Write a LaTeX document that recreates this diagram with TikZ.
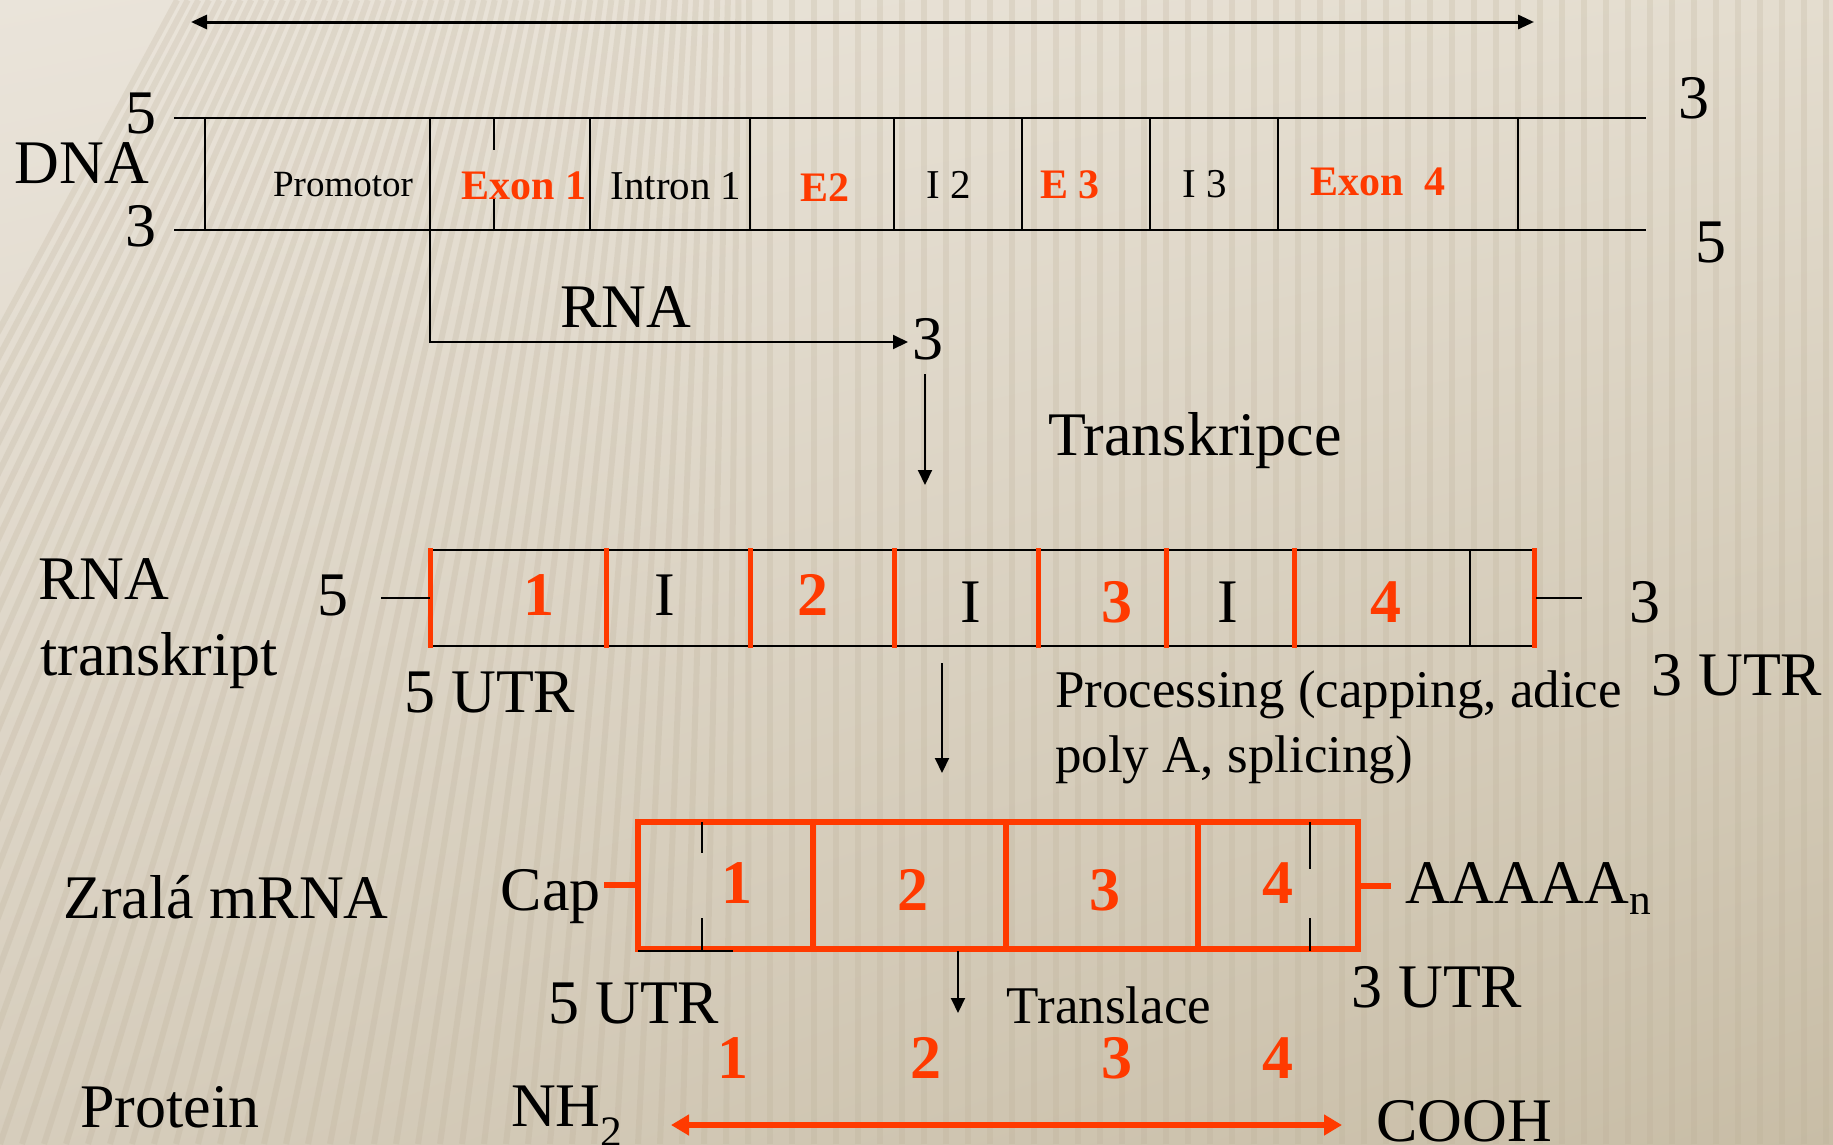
\documentclass[tikz,border=0pt]{standalone}
\usepackage{fontspec}
\setmainfont{Liberation Serif}
\usetikzlibrary{arrows.meta,shadings}
\definecolor{gred}{RGB}{255,58,0}
\definecolor{bgUL}{RGB}{234,228,218}
\definecolor{bgUR}{RGB}{228,221,207}
\definecolor{bgLL}{RGB}{214,205,188}
\definecolor{bgLR}{RGB}{200,189,166}
\definecolor{stripecol}{RGB}{185,172,148}
\tikzset{
  txtL/.style={font=\fontsize{62}{74}\selectfont, inner sep=0pt},
  txtM/.style={font=\fontsize{53}{65}\selectfont, inner sep=0pt},
  txtS/.style={font=\fontsize{41}{49}\selectfont, inner sep=0pt},
  txtP/.style={font=\fontsize{37}{44}\selectfont, inner sep=0pt},
  exonlbl/.style={font=\fontsize{42}{50}\selectfont\bfseries, text=gred, inner sep=0pt},
  rnum/.style={font=\fontsize{62}{74}\selectfont\bfseries, text=gred, inner sep=0pt},
  strand/.style={line width=2.5pt},
  sepline/.style={line width=1.6pt},
  rbar/.style={draw=gred, line width=5pt},
  rbox/.style={draw=gred, line width=6pt},
  thinmark/.style={line width=2pt},
  arr/.style={line width=2pt, -{Triangle[length=15pt,width=14pt]}},
  dblarr/.style={line width=3pt, {Triangle[length=16pt,width=14pt]}-{Triangle[length=16pt,width=14pt]}},
  redarr/.style={draw=gred, line width=6pt, {Triangle[length=18pt,width=20pt]}-{Triangle[length=18pt,width=20pt]}},
  stripe/.style={draw=stripecol, line width=6pt, opacity=0.22},
}
\begin{document}
\begin{tikzpicture}[x=1pt,y=-1pt]
% background
\useasboundingbox (0,0) rectangle (1833,1144);
\shade[upper left=bgUL, upper right=bgUR, lower left=bgLL, lower right=bgLR] (0,0) rectangle (1833,1144);
\begin{scope}
\clip (0,0) rectangle (1833,1144);
\foreach \x in {-440,-418,...,1850}{
  \pgfmathsetmacro\s{max(0,0.34*(1-\x/750))}
  \draw[stripe] (\x,1144) -- ({\x+\s*1144},0);
}
\end{scope}

% ---------- top double arrow ----------
\coordinate (ta1) at (191,22);
\coordinate (ta2) at (1534,22);
\draw[dblarr] (ta1) -- (ta2);

% ---------- DNA ----------
\coordinate (dtl) at (174,118);
\coordinate (dtr) at (1646,118);
\coordinate (dbl) at (174,230);
\coordinate (dbr) at (1646,230);
\draw[strand] (dtl) -- (dtr);
\draw[strand] (dbl) -- (dbr);
\foreach \x in {205,430,590,750,894,1022,1150,1278,1518}{
  \draw[sepline] (\x,118) -- (\x,230);
}
\draw[sepline] (494,118) -- (494,150);
\draw[sepline] (494,198) -- (494,230);

\node[txtL, anchor=base] (d5) at (141,133) {5};
\node[txtL, anchor=base] (dna) at (82,183) {DNA};
\node[txtL, anchor=base] (d3) at (141,246) {3};
\node[txtL, anchor=base] (d3r) at (1694,118) {3};
\node[txtL, anchor=base] (d5r) at (1711,262) {5};

\node[txtP, anchor=base] (prom) at (343,196) {Promotor};
\node[exonlbl, anchor=base] (ex1) at (524,199) {Exon 1};
\node[txtS, anchor=base] (in1) at (676,199) {Intron 1};
\node[exonlbl, anchor=base] (e2) at (825,201) {E2};
\node[txtS, anchor=base] (i2) at (949,198) {I 2};
\node[exonlbl, anchor=base] (e3) at (1070,198) {E 3};
\node[txtS, anchor=base] (i3) at (1205,197) {I 3};
\node[exonlbl, anchor=base] (ex4) at (1378,195) {Exon\ \ 4};

% ---------- RNA synthesis ----------
\node[txtL, anchor=base] (rnalbl) at (626,327) {RNA};
\node[txtL, anchor=base] (r3) at (928,359) {3};
\coordinate (tss) at (430,230);
\coordinate (rnaend) at (908,342);
\draw[arr] (tss) |- (rnaend);

% transcription arrow
\coordinate (tk1) at (925,374);
\coordinate (tk2) at (925,485);
\draw[arr] (tk1) -- (tk2);
\node[txtL, anchor=base] (transk) at (1195,455) {Transkripce};

% ---------- RNA transcript ----------
\node[txtL, anchor=base west] (rnat1) at (38,599) {RNA};
\node[txtL, anchor=base west] (rnat2) at (40,675) {transkript};
\node[txtL, anchor=base] (t5) at (333,615) {5};
\node[txtL, anchor=base] (t3) at (1645,622) {3};

\coordinate (bl) at (430,550);
\coordinate (br) at (1534,550);
\coordinate (bbl) at (430,646);
\coordinate (bbr) at (1534,646);
\draw[strand] (bl) -- (br);
\draw[strand] (bbl) -- (bbr);
\draw[sepline] (1470,550) -- (1470,646);
\foreach \x in {430,606,750,894,1038,1166,1294,1534}{
  \draw[rbar] (\x,548) -- (\x,648);
}
\coordinate (st5) at (381,598);
\coordinate (st3) at (1582,598);
\draw[thinmark] (st5) -- (430,598);
\draw[thinmark] (1536,598) -- (st3);

\node[rnum, anchor=base] (tn1) at (539,615) {1};
\node[txtL, anchor=base] (ti1) at (665,615) {I};
\node[rnum, anchor=base] (tn2) at (813,615) {2};
\node[txtL, anchor=base] (ti2) at (971,622) {I};
\node[rnum, anchor=base] (tn3) at (1117,622) {3};
\node[txtL, anchor=base] (ti3) at (1228,622) {I};
\node[rnum, anchor=base] (tn4) at (1386,622) {4};

\node[txtL, anchor=base] (utr5a) at (490,712) {5 UTR};
\node[txtL, anchor=base] (utr3a) at (1737,695) {3 UTR};

% processing arrow
\coordinate (pr1) at (942,663);
\coordinate (pr2) at (942,773);
\draw[arr] (pr1) -- (pr2);
\node[txtM, anchor=base west] (proc) at (1055,707) {\begin{tabular}[t]{@{}l@{}}Processing (capping, adice\\poly A, splicing)\end{tabular}};

% ---------- mature mRNA ----------
\node[txtL, anchor=base] (zr) at (226,918) {Zralá mRNA};
\node[txtL, anchor=base east] (cap) at (601,910) {Cap};
\draw[rbox] (638,822) rectangle (1358,949);
\foreach \x in {813,1006,1198}{
  \draw[rbox] (\x,822) -- (\x,949);
}
\draw[thinmark] (702,822) -- (702,853);
\draw[thinmark] (702,918) -- (702,951);
\draw[thinmark] (1310,822) -- (1310,869);
\draw[thinmark] (1310,918) -- (1310,951);
\draw[thinmark] (638,951) -- (733,951);
\coordinate (cs1) at (604,885);
\coordinate (cs2) at (1391,886);
\draw[rbox] (cs1) -- (638,885);
\draw[rbox] (1358,886) -- (cs2);

\node[rnum, anchor=base] (m1) at (737,903) {1};
\node[rnum, anchor=base] (m2) at (913,910) {2};
\node[rnum, anchor=base] (m3) at (1105,910) {3};
\node[rnum, anchor=base] (m4) at (1278,903) {4};
\node[txtL, anchor=base west] (polya) at (1405,903) {AAAAA\textsubscript{n}};

\node[txtL, anchor=base] (utr5b) at (634,1023) {5 UTR};
\node[txtL, anchor=base] (utr3b) at (1437,1007) {3 UTR};

% translation arrow
\coordinate (tl1) at (958,951);
\coordinate (tl2) at (958,1013);
\draw[arr] (tl1) -- (tl2);
\node[txtM, anchor=base] (transl) at (1109,1023) {Translace};

% ---------- protein ----------
\node[rnum, anchor=base] (p1) at (733,1078) {1};
\node[rnum, anchor=base] (p2) at (926,1078) {2};
\node[rnum, anchor=base] (p3) at (1117,1078) {3};
\node[rnum, anchor=base] (p4) at (1278,1078) {4};
\node[txtL, anchor=base] (prot) at (170,1127) {Protein};
\node[txtL, anchor=base west] (nh2) at (511,1126) {NH\textsubscript{2}};
\node[txtL, anchor=base west] (cooh) at (1376,1141) {COOH};
\coordinate (pa1) at (671,1125);
\coordinate (pa2) at (1342,1125);
\draw[redarr] (pa1) -- (pa2);
\end{tikzpicture}
\end{document}
